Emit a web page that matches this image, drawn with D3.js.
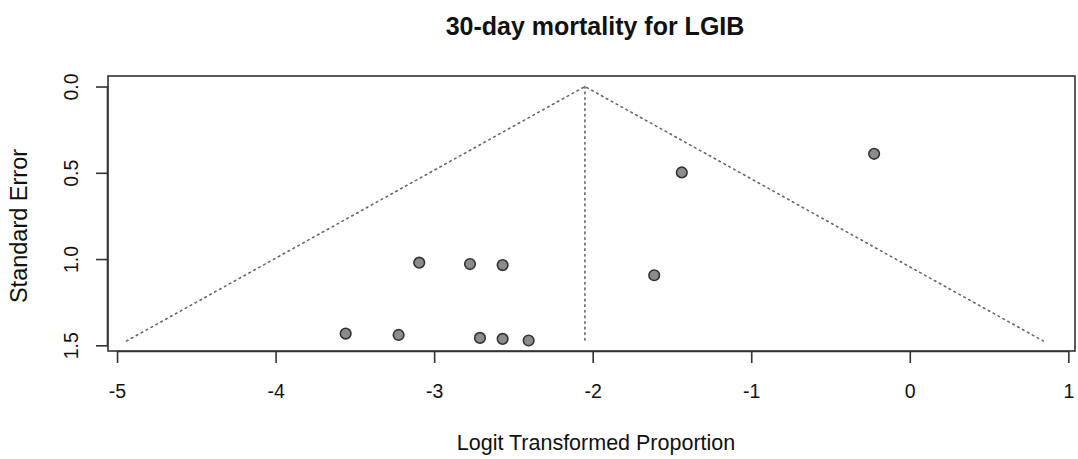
<!DOCTYPE html>
<html><head><meta charset="utf-8">
<script src="https://cdn.jsdelivr.net/npm/d3@7"></script>
<style>body{margin:0;background:#fff}svg{display:block}text{font-family:"Liberation Sans",Arial,sans-serif;fill:#111}</style>
</head><body><svg id="c" width="1078" height="459"></svg>
<script>
const title = "30-day mortality for LGIB";
const xLabel = "Logit Transformed Proportion";
const yLabel = "Standard Error";
const xTicks = [-5, -4, -3, -2, -1, 0, 1];
const yTicks = [0.0, 0.5, 1.0, 1.5];
const estimates = [-3.094, -2.774, -2.568, -3.558, -3.224, -2.711, -2.568, -2.404, -1.438, -0.225, -1.612];
const stdErrors = [1.021, 1.029, 1.035, 1.432, 1.440, 1.457, 1.463, 1.472, 0.498, 0.390, 1.094];
const pooled = -2.049;
const maxSE = 1.475;

const svg = d3.select("#c");
const L = 108, R = 1075, T = 76, B = 351;
const x = d3.scaleLinear().domain([-5.057, 1.042]).range([L, R]);
const y = d3.scaleLinear().domain([-0.061, 1.533]).range([T, B]);

// funnel
const fun = [[pooled - 1.96 * maxSE, maxSE], [pooled, 0], [pooled + 1.96 * maxSE, maxSE]];
svg.append("path").attr("d", d3.line().x(d => x(d[0])).y(d => y(d[1]))(fun))
  .attr("fill", "none").attr("stroke", "#666").attr("stroke-width", 1.6).attr("stroke-dasharray", "1.6 4").attr("stroke-linecap", "round");
svg.append("line").attr("x1", x(pooled)).attr("x2", x(pooled)).attr("y1", y(0)).attr("y2", y(maxSE))
  .attr("stroke", "#666").attr("stroke-width", 1.6).attr("stroke-dasharray", "1.6 4").attr("stroke-linecap", "round");

// points
svg.append("g").selectAll("circle").data(estimates).join("circle")
  .attr("cx", d => x(d)).attr("cy", (d, i) => y(stdErrors[i])).attr("r", 5.3)
  .attr("fill", "#8c8c8c").attr("stroke", "#333").attr("stroke-width", 1.6);

// frame
svg.append("rect").attr("x", L).attr("y", T).attr("width", R - L).attr("height", B - T)
  .attr("fill", "none").attr("stroke", "#333").attr("stroke-width", 1.6);

// axes
const fmtX = d => String(d);
const fmtY = d => d.toFixed(1);
const xa = svg.append("g").attr("transform", `translate(0,${B})`)
  .call(d3.axisBottom(x).tickValues(xTicks).tickSize(12).tickPadding(21).tickFormat(fmtX));
const ya = svg.append("g").attr("transform", `translate(${L},0)`)
  .call(d3.axisLeft(y).tickValues(yTicks).tickSize(12).tickPadding(0).tickFormat(fmtY));
[xa, ya].forEach(g => {
  g.select(".domain").attr("stroke", "#333").attr("stroke-width", 1.6);
  g.selectAll(".tick line").attr("stroke", "#333").attr("stroke-width", 1.6);
  g.selectAll("text").attr("font-size", 19.5).style("fill", "#111").attr("font-family", '"Liberation Sans",Arial,sans-serif');
});
xa.select(".domain").attr("d", `M${x(-5)},0.5H${x(1)}`);
ya.select(".domain").attr("d", `M-0.5,${y(0)}V${y(1.5)}`);
ya.selectAll(".tick text").attr("x", null).attr("dy", null)
  .attr("transform", "translate(-37,0) rotate(-90)").attr("text-anchor", "middle").attr("dominant-baseline", "central");

// titles
svg.append("text").attr("x", 595).attr("y", 35).attr("text-anchor", "middle")
  .attr("font-size", 25).attr("font-weight", "bold").text(title);
svg.append("text").attr("x", 596).attr("y", 450).attr("text-anchor", "middle")
  .attr("font-size", 21.5).text(xLabel);
svg.append("text").attr("transform", "translate(27,226) rotate(-90)").attr("text-anchor", "middle")
  .attr("font-size", 23.5).text(yLabel);
</script></body></html>
